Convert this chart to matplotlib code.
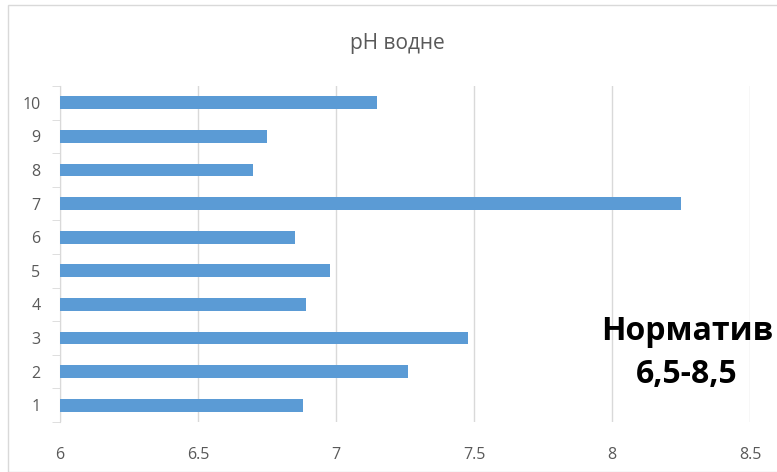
import matplotlib.pyplot as plt
import numpy as np
from matplotlib.patches import Rectangle

# data
samples = [1, 2, 3, 4, 5, 6, 7, 8, 9, 10]
ph_values = [6.88, 7.26, 7.48, 6.89, 6.98, 6.85, 8.25, 6.70, 6.75, 7.15]
x_ticks = [6, 6.5, 7, 7.5, 8, 8.5]
x_labels = ['6', '6.5', '7', '7.5', '8', '8.5']

plt.rcParams['font.family'] = ['Open Sans', 'DejaVu Sans']

fig = plt.figure(figsize=(7.77, 4.72), dpi=100)
fig.patches.append(Rectangle((8/777, 0.0), 1.0, 1 - 5/472, transform=fig.transFigure,
                             fill=False, edgecolor='#d9d9d9', linewidth=1.0))

ax = fig.add_axes([60/777, 50/472, 690/777, 336/472])
ax.barh(samples, [v - 6 for v in ph_values], left=6, height=0.38, color='#5b9bd5', zorder=3)

ax.set_xlim(6, 8.5)
ax.set_ylim(0.5, 10.5)
ax.set_xticks(x_ticks)
ax.set_xticklabels(x_labels)
ax.set_yticks(samples)
ax.set_yticks(np.arange(0.5, 11, 1), minor=True)
ax.grid(axis='x', color='#d9d9d9', linewidth=1.0, zorder=0)

for s in ['top', 'right', 'bottom']:
    ax.spines[s].set_visible(False)
ax.spines['left'].set_color('#d9d9d9')

ax.tick_params(axis='x', length=0, pad=18, labelsize=11.5, labelcolor='#595959')
ax.tick_params(axis='y', which='major', length=0, pad=14, labelsize=11.5, labelcolor='#595959')
ax.tick_params(axis='y', which='minor', length=6, color='#d9d9d9')

fig.text(397/777, 1 - 43/472, 'pH водне', ha='center', va='center',
         fontsize=15, color='#595959')
fig.text(687/777, 1 - 353/472, 'Норматив\n6,5-8,5', ha='center', va='center',
         fontsize=23, fontweight='bold', color='black', linespacing=1.4)

fig.savefig('out.png', dpi=100)
